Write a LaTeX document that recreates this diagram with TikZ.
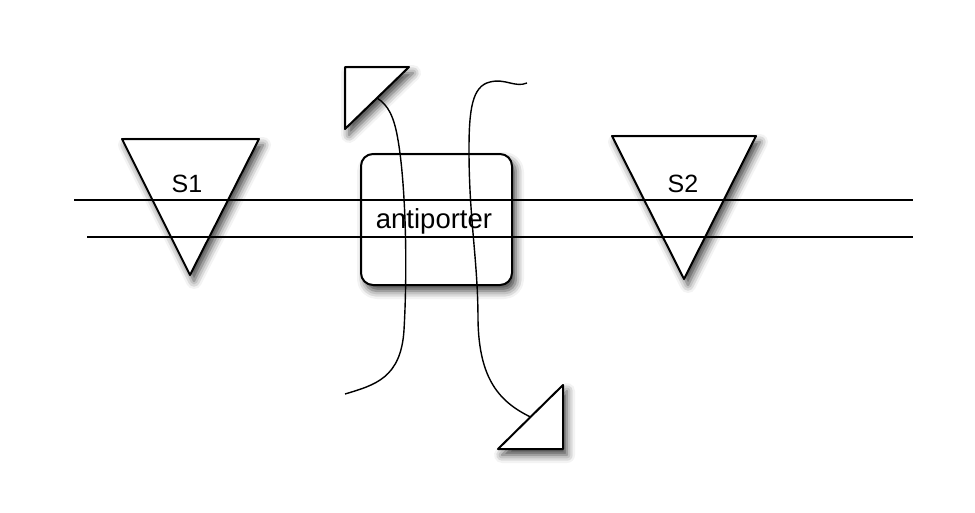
\documentclass[tikz,border=0pt]{standalone}
\usepackage{fontspec}
\setmainfont{Liberation Sans}
\usetikzlibrary{shadows.blur}
\begin{document}
\begin{tikzpicture}[x=1pt,y=-1pt,
  shp/.style={draw=black, line width=2pt, fill=white, line join=round,
    blur shadow={shadow xshift=4pt, shadow yshift=-6pt, shadow blur radius=8pt, shadow opacity=75}},
  membrane/.style={line width=1.7pt},
  flux/.style={line width=1.4pt},
  lbl/.style={font=\fontsize{25}{29}\selectfont, inner sep=0pt, anchor=base}
]
\useasboundingbox (0,0) rectangle (975,512);

% substrates
\path[shp] (122,139) -- (259,139) -- (190,275) -- cycle;
\path[shp] (612,136) -- (756,136) -- (684,279) -- cycle;

% antiporter box
\node[shp, rounded corners=12pt, minimum width=151pt, minimum height=131pt] (ap) at (436.5,219.5) {};

% arrowhead triangles
\path[shp] (345,67) -- (409,67) -- (345,129) -- cycle;
\path[shp] (563,385) -- (563,449) -- (498,449) -- cycle;

% membrane lines
\coordinate (m1l) at (74,200);
\coordinate (m1r) at (913,200);
\coordinate (m2l) at (87,237);
\coordinate (m2r) at (913,237);
\draw[membrane] (m1l) -- (m1r);
\draw[membrane] (m2l) -- (m2r);

% labels
\node[lbl] (s1) at (187,192) {S1};
\node[lbl] (s2) at (683,192) {S2};
\node[lbl, font=\fontsize{27.5}{30}\selectfont] (aptext) at (434,228) {antiporter};

% fluxes
\coordinate (inA) at (345,394);
\coordinate (tipA) at (377,98);
\coordinate (inB) at (527,83);
\coordinate (tipB) at (530.5,417);
\draw[flux] (inA) .. controls (375,385) and (401,378) .. (404,330)
  .. controls (408,260) and (405,180) .. (398,140)
  .. controls (394,116) and (388,105) .. (tipA);
\draw[flux] (inB) .. controls (515,88) and (505,78) .. (490,82)
  .. controls (472,86) and (469,110) .. (469,150)
  .. controls (469,220) and (478,260) .. (478,320)
  .. controls (479,380) and (500,402) .. (tipB);
\end{tikzpicture}
\end{document}
